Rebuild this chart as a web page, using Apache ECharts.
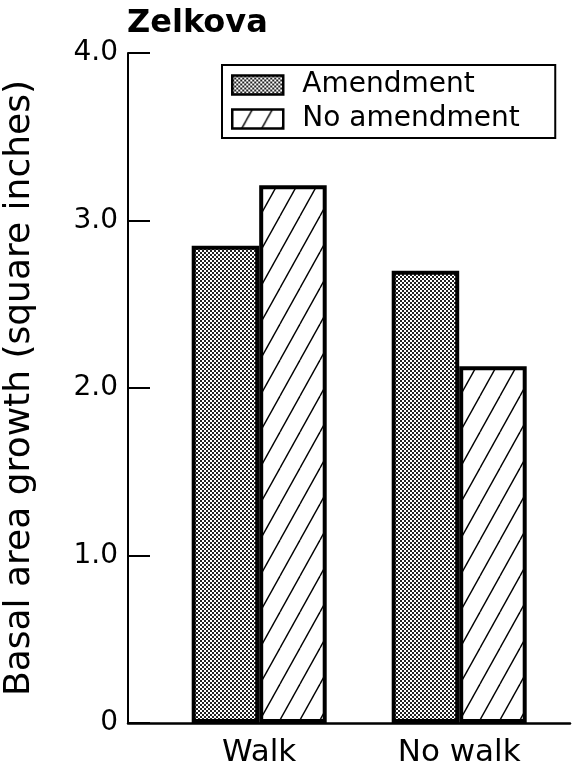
<!DOCTYPE html>
<html>
<head>
<meta charset="utf-8">
<script src="https://cdn.jsdelivr.net/npm/echarts@6/dist/echarts.min.js"></script>
<style>
html,body{margin:0;padding:0;background:#fff;}
#chart{width:581px;height:773px;}
</style>
</head>
<body>
<div id="chart"></div>
<script>
var categories = ['Walk', 'No walk'];
var seriesNames = ['Amendment', 'No amendment'];
var amendment = [2.85, 2.70];
var noAmendment = [3.21, 2.13];
var yTicks = [0, 1, 2, 3, 4];

function stipple() {
  var c = document.createElement('canvas');
  c.width = 4; c.height = 4;
  var g = c.getContext('2d');
  g.fillStyle = '#fff'; g.fillRect(0, 0, 4, 4);
  g.fillStyle = '#222';
  g.fillRect(0, 0, 2, 2);
  g.fillRect(2, 2, 2, 2);
  return c;
}
function hatch() {
  var w = 20, h = 36;
  var c = document.createElement('canvas');
  c.width = w; c.height = h;
  var g = c.getContext('2d');
  g.fillStyle = '#fff'; g.fillRect(0, 0, w, h);
  g.strokeStyle = '#000'; g.lineWidth = 1.4;
  [-w, 0, w].forEach(function (o) {
    g.beginPath();
    g.moveTo(o, h); g.lineTo(o + w, 0);
    g.stroke();
  });
  return c;
}

var font = 'DejaVu Sans';
var chart = echarts.init(document.getElementById('chart'), null, {renderer: 'canvas'});
chart.setOption({
  backgroundColor: '#fff',
  animation: false,
  title: {
    text: 'Zelkova',
    left: 122, top: 3,
    textStyle: {fontFamily: font, fontWeight: 'bold', fontSize: 32, color: '#000'}
  },
  legend: {
    orient: 'vertical',
    left: 222, top: 65,
    padding: [5, 6, 4, 9],
    borderColor: '#000', borderWidth: 2,
    itemWidth: 51, itemHeight: 19, itemGap: 4,
    icon: 'rect',
    itemStyle: {borderColor: '#000', borderWidth: 2.5},
    textStyle: {fontFamily: font, fontSize: 28, color: '#000', width: 247, padding: [0, 0, 0, 14], lineHeight: 30},
    data: seriesNames
  },
  grid: [
    {left: 128, right: 11, top: 53, bottom: 50, outerBoundsMode: 'none', containLabel: false},
    {left: 159.2, right: 21.8, top: 53, bottom: 50, outerBoundsMode: 'none', containLabel: false}
  ],
  xAxis: [
    {
      gridIndex: 0, type: 'category', data: categories,
      axisLine: {lineStyle: {color: '#000', width: 2.5}},
      axisTick: {show: false}, axisLabel: {show: false}
    },
    {
      gridIndex: 1, type: 'category', data: categories,
      axisLine: {show: false}, axisTick: {show: false},
      axisLabel: {fontFamily: font, fontSize: 31, color: '#000', margin: 14}
    }
  ],
  yAxis: [
    {
      gridIndex: 0, type: 'value', min: 0, max: 4, interval: 1,
      name: 'Basal area growth (square inches)',
      nameLocation: 'middle', nameGap: 90,
      nameTextStyle: {fontFamily: font, fontSize: 36, color: '#000'},
      axisLine: {show: true, lineStyle: {color: '#000', width: 2}},
      axisTick: {show: true, inside: true, length: 22, lineStyle: {color: '#000', width: 2}},
      splitLine: {show: false},
      axisLabel: {
        fontFamily: font, fontSize: 28, color: '#000', margin: 10,
        formatter: function (v) { return v === 0 ? '0' : v.toFixed(1); }
      }
    },
    {
      gridIndex: 1, type: 'value', min: 0, max: 4, interval: 1, show: false
    }
  ],
  series: [
    {
      name: seriesNames[0], type: 'bar', xAxisIndex: 1, yAxisIndex: 1,
      data: amendment, barWidth: 67.5, barGap: '0%',
      itemStyle: {color: {image: stipple(), repeat: 'repeat'}, borderColor: '#000', borderWidth: 4}
    },
    {
      name: seriesNames[1], type: 'bar', xAxisIndex: 1, yAxisIndex: 1,
      data: noAmendment, barWidth: 67.5, barGap: '0%',
      itemStyle: {color: {image: hatch(), repeat: 'repeat'}, borderColor: '#000', borderWidth: 4}
    }
  ]
});
</script>
</body>
</html>
